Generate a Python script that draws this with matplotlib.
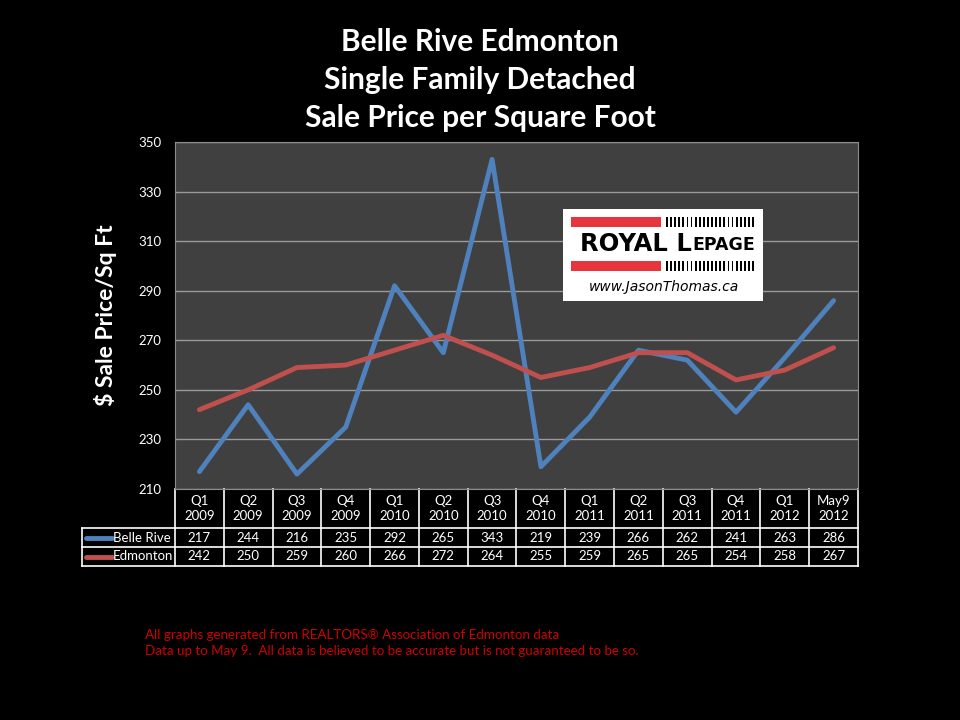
import numpy as np
import matplotlib.pyplot as plt
from matplotlib.patches import Rectangle
from matplotlib.transforms import blended_transform_factory

quarters = ['Q1\n2009', 'Q2\n2009', 'Q3\n2009', 'Q4\n2009', 'Q1\n2010', 'Q2\n2010', 'Q3\n2010',
            'Q4\n2010', 'Q1\n2011', 'Q2\n2011', 'Q3\n2011', 'Q4\n2011', 'Q1\n2012', 'May9\n2012']
belle_rive = [217, 244, 216, 235, 292, 265, 343, 219, 239, 266, 262, 241, 263, 286]
edmonton = [242, 250, 259, 260, 266, 272, 264, 255, 259, 265, 265, 254, 258, 267]
series = [('Belle Rive', belle_rive, '#4f81bd'), ('Edmonton', edmonton, '#c0504d')]
y_ticks = np.arange(210, 351, 20)

plt.rcParams['font.family'] = ['Lato', 'DejaVu Sans']

W, H = 960, 720
fig = plt.figure(figsize=(9.6, 7.2), dpi=100, facecolor='black')

def fx(px):
    return px / W

def fy(py):
    return 1 - py / H

ax = fig.add_axes([fx(175), fy(489), fx(858 - 175), (489 - 142) / H])
ax.set_facecolor('#404040')
x = np.arange(len(quarters))
for name, vals, col in series:
    ax.plot(x, vals, color=col, lw=3.5, solid_capstyle='round', zorder=3)

ax.set_xlim(-0.5, len(quarters) - 0.5)
ax.set_ylim(210, 350)
ax.set_yticks(y_ticks)
ax.set_xticks([])
ax.tick_params(axis='y', length=0, colors='white', labelsize=9.5, pad=10)
ax.yaxis.grid(True, color='#9a9a9a', lw=1)
ax.set_axisbelow(True)
for s in ax.spines.values():
    s.set_color('#8c8c8c')
ax.set_ylabel('$ Sale Price/Sq Ft', color='white', fontsize=16.5, fontweight='bold')
ax.yaxis.set_label_coords(-58 / 683, 0.5)

# data table under the plot, columns follow the x scale
tr = blended_transform_factory(ax.transData, ax.transAxes)
h_hdr = 39 / 347
h_row = 19 / 347
lab_left = -0.5 - 93 / (683 / len(quarters))
n = len(quarters)
lw_t = 1.2
ax.plot([-0.5, n - 0.5], [-h_hdr, -h_hdr], transform=tr, color='white', lw=lw_t, clip_on=False)
for k in range(1, 3):
    yy = -h_hdr - k * h_row
    ax.plot([lab_left, n - 0.5], [yy, yy], transform=tr, color='white', lw=lw_t, clip_on=False)
ax.plot([lab_left, -0.5], [-h_hdr, -h_hdr], transform=tr, color='white', lw=lw_t, clip_on=False)
for i in range(n + 1):
    ax.plot([i - 0.5, i - 0.5], [0, -h_hdr - 2 * h_row], transform=tr, color='white', lw=lw_t, clip_on=False)
ax.plot([lab_left, lab_left], [-h_hdr, -h_hdr - 2 * h_row], transform=tr, color='white', lw=lw_t, clip_on=False)

for i, q in enumerate(quarters):
    ax.text(i, -h_hdr / 2, q, transform=tr, ha='center', va='center', color='white', fontsize=9.5,
            linespacing=1.3)
for r, (name, vals, col) in enumerate(series):
    yc = -h_hdr - (r + 0.5) * h_row
    ax.plot([lab_left + 0.08, lab_left + 0.62], [yc, yc], transform=tr, color=col, lw=3.5,
            solid_capstyle='round', clip_on=False)
    ax.text(lab_left + 0.64, yc, name, transform=tr, ha='left', va='center', color='white', fontsize=9.5)
    for i, v in enumerate(vals):
        ax.text(i, yc, str(v), transform=tr, ha='center', va='center', color='white', fontsize=9.5)

# title
for line, py in [('Belle Rive Edmonton', 42), ('Single Family Detached', 80), ('Sale Price per Square Foot', 118)]:
    fig.text(0.5, fy(py), line, ha='center', va='center', color='white', fontsize=21.5, fontweight='bold')

# logo
fig.patches.append(Rectangle((fx(563), fy(301)), fx(200), (301 - 209) / H, transform=fig.transFigure,
                             facecolor='white', edgecolor='none', zorder=5))
for top in [217, 261]:
    fig.patches.append(Rectangle((fx(571), fy(top + 10)), fx(90), 10 / H, transform=fig.transFigure,
                                 facecolor='#e8343c', edgecolor='none', zorder=6))
    for k in range(22):
        xs = 666 + k * 4.1
        fig.patches.append(Rectangle((fx(xs), fy(top + 10)), fx(1.8), 10 / H, transform=fig.transFigure,
                                     facecolor='black', edgecolor='none', zorder=6))
fig.text(fx(692), fy(244), 'ROYAL L', ha='right', va='center', color='black', fontsize=17.5,
         fontweight='bold', family='DejaVu Sans', zorder=7)
fig.text(fx(692), fy(245), 'EPAGE', ha='left', va='center', color='black', fontsize=12.5,
         fontweight='bold', family='DejaVu Sans', zorder=7)
fig.text(fx(664), fy(287), 'www.JasonThomas.ca', ha='center', va='center', color='black', fontsize=10,
         style='italic', family='DejaVu Sans', zorder=7)

# footer
fig.text(fx(145), fy(635), 'All graphs generated from REALTORS\u00ae Association of Edmonton data',
         color='#d00000', fontsize=9.6, va='center')
fig.text(fx(145), fy(651), 'Data up to May 9.  All data is believed to be accurate but is not guaranteed to be so.',
         color='#d00000', fontsize=9.6, va='center')

fig.savefig('out.png', dpi=100, facecolor='black')
